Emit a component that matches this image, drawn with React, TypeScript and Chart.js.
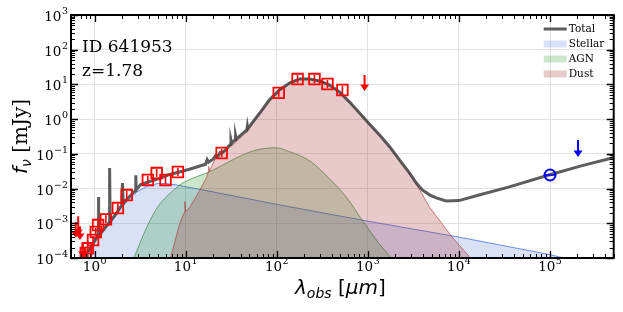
import React, { useEffect, useRef } from "react";
import { Chart, registerables } from "chart.js";
Chart.register(...registerables);

// ---------------- data ----------------
const X_MIN = 0.55;
const X_MAX = 5e5;
const Y_MIN = 1e-4;
const Y_MAX = 1e3;

const xTickExps = [0, 1, 2, 3, 4, 5];
const yTickExps = [-4, -3, -2, -1, 0, 1, 2, 3];

const totalLam = [
  0.74, 0.8, 0.86, 0.95, 1.05, 1.09, 1.1, 1.11, 1.2, 1.32, 1.44, 1.46, 1.48, 1.7, 1.98, 2.02, 2.06,
  2.3, 2.6, 2.8, 2.83, 2.86, 3.2, 4.0, 5.0, 6.5, 8.5, 11, 14, 16.5, 17.2, 17.8, 20, 21.4, 22.5, 23.9,
  25, 28, 31, 31.4, 32, 35, 35.3, 36, 42, 47, 47.5, 48, 55, 65, 83, 107, 138, 178, 229, 295, 380,
  490, 630, 810, 1050, 1400, 1740, 2300, 2870, 3400, 3970, 4800, 5630, 7240, 10000, 16600, 35000,
  97000, 220000, 480000, 600000,
];
const totalFlux = [
  6e-5, 1.1e-4, 1.6e-4, 2.5e-4, 3.8e-4, 4.3e-4, 5.7e-3, 4.5e-4, 5.6e-4, 7.8e-4, 1.05e-3, 3.9e-2,
  1.1e-3, 1.8e-3, 3.3e-3, 1.45e-2, 3.7e-3, 5.2e-3, 7.2e-3, 8.8e-3, 2.4e-2, 9.2e-3, 1.3e-2, 1.6e-2,
  1.9e-2, 2.5e-2, 3.0e-2, 3.6e-2, 4.4e-2, 5.0e-2, 6.8e-2, 5.8e-2, 7.0e-2, 9.0e-2, 8.5e-2, 0.11,
  0.105, 0.14, 0.19, 0.25, 0.2, 0.26, 0.34, 0.27, 0.38, 0.5, 0.62, 0.52, 0.85, 1.5, 3.6, 6.9, 11,
  14.4, 14.4, 12.6, 9.6, 6.0, 3.1, 1.5, 0.7, 0.31, 0.158, 0.06, 0.028, 0.0145, 9.1e-3, 6.5e-3,
  5.4e-3, 4.4e-3, 4.5e-3, 6.5e-3, 1.1e-2, 2.45e-2, 4.5e-2, 7.6e-2, 8.6e-2,
];

const stellarLam = [0.72, 0.78, 0.85, 1.0, 1.2, 1.5, 2.0, 2.5, 3.0, 4.0, 5.0, 6.0, 7.6, 30, 100, 1000, 10000, 100000, 200000];
const stellarFlux = [5e-5, 1.0e-4, 1.5e-4, 3.3e-4, 6.3e-4, 1.2e-3, 3.0e-3, 5.6e-3, 8.5e-3, 1.25e-2, 1.4e-2, 1.4e-2, 1.3e-2, 6.5e-3, 3.5e-3, 1.15e-3, 4.0e-4, 1.25e-4, 8e-5];

const agnLam = [2.4, 2.7, 3.74, 5.2, 8.6, 12, 18, 28, 42, 60, 83, 107, 138, 190, 247, 380, 580, 870, 1330, 1800, 2100];
const agnFlux = [5e-5, 1.0e-4, 7.8e-4, 3.6e-3, 1.27e-2, 2.0e-2, 3.0e-2, 5.4e-2, 9.3e-2, 0.13, 0.147, 0.146, 0.115, 0.083, 0.055, 0.019, 5.7e-3, 1.2e-3, 2.6e-4, 1.0e-4, 5e-5];

const dustLam = [
  6.5, 6.8, 8.6, 9.6, 9.8, 10.0, 11.1, 14.3, 17.0, 17.6, 17.9, 18.2, 20.8, 22.5, 24, 27, 30, 31.4, 32,
  35, 35.5, 36, 42, 47, 47.5, 48, 55, 65, 83, 107, 138, 178, 229, 295, 380, 490, 630, 810, 1050,
  1400, 1740, 2300, 3070, 4760, 8400, 13000, 15000,
];
const dustFlux = [
  5e-5, 1.0e-4, 1.0e-3, 2.0e-3, 4.2e-3, 2.2e-3, 2.9e-3, 9.1e-3, 2.15e-2, 3.0e-2, 4.3e-2, 3.2e-2,
  6.6e-2, 9.0e-2, 0.1, 0.12, 0.15, 0.21, 0.17, 0.21, 0.3, 0.23, 0.33, 0.45, 0.58, 0.48, 0.8, 1.45,
  3.5, 6.8, 10.9, 14.3, 14.3, 12.5, 9.5, 5.95, 3.05, 1.48, 0.69, 0.3, 0.155, 0.056, 0.0215, 2.9e-3,
  4.0e-4, 1.1e-4, 5e-5,
];

const photLam = [0.8, 0.84, 0.96, 1.03, 1.09, 1.33, 1.8, 2.25, 3.84, 4.8, 6.0, 8.2, 24.8, 105, 169, 259, 360, 525];
const photFlux = [1.4e-4, 1.9e-4, 3.3e-4, 5.6e-4, 8.9e-4, 1.3e-3, 2.75e-3, 6.5e-3, 1.77e-2, 2.8e-2, 1.77e-2, 3.0e-2, 0.106, 5.7, 14.3, 14.3, 10.3, 6.9];
const photErr = [0.3, 0.3, 0.3, 0.3, 0.3, 0.3, 0.3, 0.3, 0.3, 0.3, 0.3, 0.3, 0.3, 0.3, 0.3, 0.3, 0.3, 0.3];

const radioLam = [1e5];
const radioFlux = [0.0246];

const ulRedLam = [0.62, 0.66, 0.69, 0.74, 0.78, 920];
const ulRedTop = [1.09e-3, 1.6e-3, 8.2e-4, 2.7e-4, 2.1e-4, 18.7];
const ulRedTip = [3.8e-4, 4.3e-4, 3.3e-4, 1.0e-4, 7.7e-5, 6.5];

const ulBlueLam = [2.03e5];
const ulBlueTop = [0.25];
const ulBlueTip = [0.081];

const legendLabels = ["Total", "Stellar", "AGN", "Dust"];
const idText = "ID 641953";
const zText = "z=1.78";

// ---------------- styles ----------------
const SERIF = "'DejaVu Serif', 'Liberation Serif', serif";
const SANS = "'DejaVu Sans', 'Liberation Sans', sans-serif";
const TOTAL_COLOR = "rgba(65,65,65,0.85)";
const STELLAR_FILL = "rgba(65,105,225,0.2)";
const STELLAR_LINE = "rgba(65,105,225,0.75)";
const AGN_FILL = "rgba(0,128,0,0.2)";
const AGN_LINE = "rgba(40,120,40,0.6)";
const DUST_FILL = "rgba(165,42,42,0.25)";
const DUST_LINE = "rgba(170,50,50,0.6)";
const legendColors = [TOTAL_COLOR, STELLAR_FILL, AGN_FILL, DUST_FILL];

const pts = (xs: number[], ys: number[]) => xs.map((x, i) => ({ x, y: ys[i] }));

function drawArrow(ctx: CanvasRenderingContext2D, x: number, yTop: number, yTip: number, color: string) {
  ctx.save();
  ctx.strokeStyle = color;
  ctx.fillStyle = color;
  ctx.lineWidth = 2;
  ctx.beginPath();
  ctx.moveTo(x, yTop);
  ctx.lineTo(x, yTip - 4);
  ctx.stroke();
  ctx.beginPath();
  ctx.moveTo(x, yTip);
  ctx.lineTo(x - 4.5, yTip - 6.5);
  ctx.lineTo(x + 4.5, yTip - 6.5);
  ctx.closePath();
  ctx.fill();
  ctx.restore();
}

function drawPow(ctx: CanvasRenderingContext2D, exp: number, x: number, baseline: number, align: "right" | "center") {
  const base = "10";
  const sup = exp < 0 ? "\u2212" + Math.abs(exp) : String(exp);
  const bf = `13.5px ${SERIF}`;
  const sf = `9.5px ${SERIF}`;
  ctx.font = bf;
  const wb = ctx.measureText(base).width;
  ctx.font = sf;
  const ws = ctx.measureText(sup).width;
  const tot = wb + ws + 0.5;
  const x0 = align === "right" ? x - tot : x - tot / 2;
  ctx.textAlign = "left";
  ctx.textBaseline = "alphabetic";
  ctx.fillStyle = "#000";
  ctx.font = bf;
  ctx.fillText(base, x0, baseline);
  ctx.font = sf;
  ctx.fillText(sup, x0 + wb + 0.5, baseline - 7);
}

type Part = { t: string; f: string; dy: number };
function drawParts(ctx: CanvasRenderingContext2D, parts: Part[], cx: number, baseline: number) {
  let w = 0;
  for (const p of parts) {
    ctx.font = p.f;
    w += ctx.measureText(p.t).width;
  }
  let x = cx - w / 2;
  ctx.textAlign = "left";
  ctx.textBaseline = "alphabetic";
  ctx.fillStyle = "#000";
  for (const p of parts) {
    ctx.font = p.f;
    ctx.fillText(p.t, x, baseline + p.dy);
    x += ctx.measureText(p.t).width;
  }
}

const sedPlugin = {
  id: "sedDecor",
  afterDatasetsDraw(chart: any) {
    const ctx: CanvasRenderingContext2D = chart.ctx;
    const xs = chart.scales.x;
    const ys = chart.scales.y;
    const { left, right, top, bottom } = chart.chartArea;
    ctx.save();
    ctx.beginPath();
    ctx.rect(left, top, right - left, bottom - top);
    ctx.clip();
    // error bars inside the squares
    ctx.strokeStyle = "#ff0000";
    ctx.lineWidth = 1.6;
    photLam.forEach((l, i) => {
      const px = xs.getPixelForValue(l);
      const y1 = ys.getPixelForValue(photFlux[i] * (1 + photErr[i]));
      const y2 = ys.getPixelForValue(photFlux[i] / (1 + photErr[i]));
      ctx.beginPath();
      ctx.moveTo(px, y1);
      ctx.lineTo(px, y2);
      ctx.stroke();
    });
    // radio point bar
    ctx.strokeStyle = "#0000ff";
    radioLam.forEach((l, i) => {
      const px = xs.getPixelForValue(l);
      const py = ys.getPixelForValue(radioFlux[i]);
      ctx.beginPath();
      ctx.moveTo(px - 5.5, py);
      ctx.lineTo(px + 5.5, py);
      ctx.stroke();
    });
    ulRedLam.forEach((l, i) => {
      drawArrow(ctx, xs.getPixelForValue(l), ys.getPixelForValue(ulRedTop[i]), ys.getPixelForValue(ulRedTip[i]), "#ff0000");
    });
    ulBlueLam.forEach((l, i) => {
      drawArrow(ctx, xs.getPixelForValue(l), ys.getPixelForValue(ulBlueTop[i]), ys.getPixelForValue(ulBlueTip[i]), "#0000ff");
    });
    ctx.restore();
  },
  afterDraw(chart: any) {
    const ctx: CanvasRenderingContext2D = chart.ctx;
    const xs = chart.scales.x;
    const ys = chart.scales.y;
    const { left, right, top, bottom } = chart.chartArea;
    ctx.save();
    // ticks
    ctx.strokeStyle = "#000";
    for (let e = -1; e <= 6; e++) {
      for (let m = 1; m <= 9; m++) {
        const v = m * Math.pow(10, e);
        if (v < X_MIN || v > X_MAX) continue;
        const px = Math.round(xs.getPixelForValue(v)) + 0.5;
        const len = m === 1 ? 7 : 4;
        ctx.lineWidth = m === 1 ? 1.3 : 1;
        ctx.beginPath();
        ctx.moveTo(px, bottom);
        ctx.lineTo(px, bottom - len);
        ctx.moveTo(px, top);
        ctx.lineTo(px, top + len);
        ctx.stroke();
      }
    }
    for (let e = -5; e <= 4; e++) {
      for (let m = 1; m <= 9; m++) {
        const v = m * Math.pow(10, e);
        if (v < Y_MIN * 0.999 || v > Y_MAX * 1.001) continue;
        const py = Math.round(ys.getPixelForValue(v)) + 0.5;
        const len = m === 1 ? 7 : 4;
        ctx.lineWidth = m === 1 ? 1.3 : 1;
        ctx.beginPath();
        ctx.moveTo(left, py);
        ctx.lineTo(left + len, py);
        ctx.moveTo(right, py);
        ctx.lineTo(right - len, py);
        ctx.stroke();
      }
    }
    // frame
    ctx.lineWidth = 2;
    ctx.strokeRect(left, top, right - left, bottom - top);
    // tick labels
    yTickExps.forEach((e) => {
      const py = ys.getPixelForValue(Math.pow(10, e));
      drawPow(ctx, e, left - 3, py + 6, "right");
    });
    xTickExps.forEach((e) => {
      const px = xs.getPixelForValue(Math.pow(10, e));
      drawPow(ctx, e, px, bottom + 13, "center");
    });
    // axis titles
    drawParts(
      ctx,
      [
        { t: "\u03bb", f: `italic 20px ${SANS}`, dy: 0 },
        { t: "obs", f: `italic 14px ${SANS}`, dy: 4 },
        { t: " [", f: `20px ${SANS}`, dy: 0 },
        { t: "\u03bcm", f: `italic 20px ${SANS}`, dy: 0 },
        { t: "]", f: `20px ${SANS}`, dy: 0 },
      ],
      (left + right) / 2 - 2,
      294
    );
    ctx.save();
    ctx.translate(27, (top + bottom) / 2);
    ctx.rotate(-Math.PI / 2);
    drawParts(
      ctx,
      [
        { t: "f", f: `italic 20px ${SANS}`, dy: 0 },
        { t: "\u03bd", f: `italic 14px ${SANS}`, dy: 4 },
        { t: " [mJy]", f: `20px ${SERIF}`, dy: 0 },
      ],
      0,
      0
    );
    ctx.restore();
    // annotation text
    ctx.fillStyle = "#000";
    ctx.font = `17px ${SERIF}`;
    ctx.textAlign = "left";
    ctx.textBaseline = "alphabetic";
    ctx.fillText(idText, left + 11, top + 37);
    ctx.fillText(zText, left + 11, top + 61);
    // legend
    const lx = right - 70;
    legendLabels.forEach((lab, i) => {
      const cy = top + 14 + i * 15;
      if (i === 0) {
        ctx.strokeStyle = legendColors[0];
        ctx.lineWidth = 3;
        ctx.beginPath();
        ctx.moveTo(lx, cy);
        ctx.lineTo(lx + 23, cy);
        ctx.stroke();
      } else {
        ctx.fillStyle = legendColors[i];
        ctx.fillRect(lx, cy - 3.5, 23, 7);
      }
      ctx.fillStyle = "#000";
      ctx.font = `10.5px ${SERIF}`;
      ctx.textBaseline = "middle";
      ctx.fillText(lab, lx + 25, cy + 0.5);
    });
    ctx.restore();
  },
};

export default function App() {
  const ref = useRef<HTMLCanvasElement>(null);
  useEffect(() => {
    const canvas = ref.current;
    if (!canvas) return;
    const chart = new Chart(canvas, {
      type: "line",
      data: {
        datasets: [
          {
            label: "Stellar",
            data: pts(stellarLam, stellarFlux),
            borderColor: STELLAR_LINE,
            backgroundColor: STELLAR_FILL,
            borderWidth: 1,
            pointRadius: 0,
            fill: "start",
            tension: 0,
            order: 6,
          },
          {
            label: "AGN",
            data: pts(agnLam, agnFlux),
            borderColor: AGN_LINE,
            backgroundColor: AGN_FILL,
            borderWidth: 1,
            pointRadius: 0,
            fill: "start",
            tension: 0.3,
            order: 5,
          },
          {
            label: "Dust",
            data: pts(dustLam, dustFlux),
            borderColor: DUST_LINE,
            backgroundColor: DUST_FILL,
            borderWidth: 1,
            pointRadius: 0,
            fill: "start",
            tension: 0,
            order: 4,
          },
          {
            label: "Total",
            data: pts(totalLam, totalFlux),
            borderColor: TOTAL_COLOR,
            borderWidth: 3,
            pointRadius: 0,
            fill: false,
            tension: 0,
            order: 3,
          },
          {
            label: "Photometry",
            data: pts(photLam, photFlux),
            showLine: false,
            pointStyle: "rect",
            pointRadius: 7.5,
            pointBorderWidth: 1.8,
            pointBorderColor: "#ff0000",
            pointBackgroundColor: "rgba(0,0,0,0)",
            order: 1,
          },
          {
            label: "Radio",
            data: pts(radioLam, radioFlux),
            showLine: false,
            pointStyle: "circle",
            pointRadius: 5.5,
            pointBorderWidth: 2,
            pointBorderColor: "#0000ff",
            pointBackgroundColor: "rgba(0,0,0,0)",
            order: 1,
          },
        ],
      },
      options: {
        responsive: false,
        maintainAspectRatio: false,
        animation: false,
        events: [],
        layout: { padding: { top: 15, right: 9, left: 0, bottom: 0 } },
        plugins: { legend: { display: false }, tooltip: { enabled: false }, title: { display: false } },
        scales: {
          x: {
            type: "logarithmic",
            min: X_MIN,
            max: X_MAX,
            ticks: { display: false },
            grid: { color: "#e2e2e2", lineWidth: 1, drawTicks: false },
            border: { display: false },
            afterBuildTicks: (s: any) => {
              s.ticks = xTickExps.map((e) => ({ value: Math.pow(10, e) }));
            },
            afterFit: (s: any) => {
              s.height = 54;
            },
          },
          y: {
            type: "logarithmic",
            min: Y_MIN,
            max: Y_MAX,
            ticks: { display: false },
            grid: { color: "#e2e2e2", lineWidth: 1, drawTicks: false },
            border: { display: false },
            afterBuildTicks: (s: any) => {
              s.ticks = yTickExps.map((e) => ({ value: Math.pow(10, e) }));
            },
            afterFit: (s: any) => {
              s.width = 71;
            },
          },
        },
      } as any,
      plugins: [sedPlugin],
    });
    return () => chart.destroy();
  }, []);
  return (
    <div style={{ position: "fixed", left: 0, top: 0, width: 623, height: 312, background: "#fff" }}>
      <canvas ref={ref} width={623} height={312} style={{ display: "block", width: 623, height: 312 }} />
    </div>
  );
}
